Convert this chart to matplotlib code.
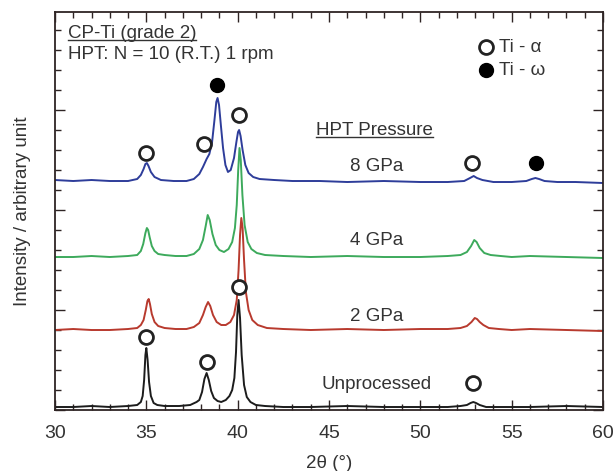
import matplotlib
matplotlib.use("Agg")
import matplotlib.pyplot as plt
import matplotlib.ticker as ticker
from matplotlib.lines import Line2D

plt.rcParams['font.family'] = ['Liberation Sans', 'DejaVu Sans']

# XRD patterns (2theta in degrees, intensity in arbitrary units)
x_unproc = [30, 31, 32, 33, 34, 34.5, 34.7, 34.8, 34.88, 34.95, 35.0, 35.07, 35.15, 35.25, 35.4,
            35.6, 36.0, 36.8, 37.4, 37.75, 37.9, 38.05, 38.18, 38.3, 38.42, 38.55, 38.7, 38.9,
            39.1, 39.35, 39.55, 39.7, 39.82, 39.91, 39.98, 40.05, 40.13, 40.22, 40.35, 40.5, 40.7,
            41.0, 41.5, 42.5, 44, 46, 48, 50, 51.5, 52.2, 52.55, 52.75, 52.9, 53.05, 53.25, 53.6,
            54.2, 56, 58, 60]
y_unproc = [3, 3, 4, 3, 4, 5, 8, 14, 30, 55, 62, 50, 28, 14, 7,
            5, 4, 4, 5, 8, 10, 18, 31, 37, 30, 19, 12, 9,
            8, 10, 14, 20, 32, 58, 95, 110, 92, 55, 25, 13, 8,
            5, 4, 3, 3, 4, 3, 3, 3, 4, 5, 7, 8, 7, 5, 3,
            3, 3, 4, 3]

x_2gpa = [30, 31, 32, 33, 34, 34.5, 34.7, 34.85, 34.97, 35.06, 35.13, 35.2, 35.3, 35.45, 35.65,
          36.0, 36.6, 37.2, 37.6, 37.9, 38.1, 38.25, 38.38, 38.5, 38.65, 38.85, 39.1, 39.35,
          39.6, 39.8, 39.95, 40.05, 40.13, 40.2, 40.27, 40.35, 40.45, 40.6, 40.8, 41.1, 41.6,
          42.5, 44, 46, 48, 50, 51.5, 52.2, 52.55, 52.8, 52.98, 53.1, 53.25, 53.45, 53.75,
          54.3, 55, 56, 58, 60]
y_2gpa = [80, 81, 80, 80, 81, 82, 85, 90, 100, 109, 111, 106, 96, 88, 84,
          82, 81, 81, 83, 87, 95, 103, 108, 104, 95, 88, 85, 85,
          88, 95, 110, 140, 175, 192, 182, 150, 118, 100, 90, 85, 82,
          81, 80, 81, 80, 81, 81, 82, 84, 88, 92, 91, 88, 85, 82,
          81, 80, 81, 80, 79]

x_4gpa = [30, 31, 32, 33, 34, 34.5, 34.7, 34.83, 34.95, 35.03, 35.1, 35.18, 35.3, 35.45, 35.65,
          36.0, 36.6, 37.2, 37.6, 37.9, 38.1, 38.25, 38.36, 38.47, 38.62, 38.8, 39.0, 39.25,
          39.5, 39.7, 39.85, 39.95, 40.03, 40.1, 40.17, 40.26, 40.38, 40.55, 40.75, 41.05, 41.5,
          42.5, 44, 46, 48, 50, 51.5, 52.2, 52.55, 52.78, 52.95, 53.08, 53.25, 53.5, 53.85,
          54.4, 55, 56, 58, 60]
y_4gpa = [153, 153, 154, 153, 154, 155, 159, 166, 177, 182, 180, 173, 164, 159, 156,
          155, 154, 154, 156, 161, 170, 184, 195, 190, 176, 165, 160, 158,
          161, 168, 182, 205, 240, 262, 250, 215, 185, 168, 161, 157, 155,
          154, 153, 154, 153, 153, 154, 155, 158, 164, 170, 168, 162, 157, 155,
          154, 153, 154, 153, 152]

x_8gpa = [30, 31, 32, 33, 34, 34.5, 34.7, 34.85, 34.95, 35.03, 35.12, 35.25, 35.45, 35.8, 36.5,
          37.2, 37.6, 37.9, 38.1, 38.3, 38.45, 38.6, 38.73, 38.83, 38.9, 38.98, 39.08, 39.2,
          39.33, 39.47, 39.62, 39.8, 39.93, 40.02, 40.08, 40.16, 40.27, 40.42, 40.6, 40.85, 41.2,
          42, 43, 44.5, 46, 48, 50, 51.5, 52.4, 52.72, 52.92, 53.1, 53.4, 54, 55, 55.8, 56.1,
          56.3, 56.5, 56.8, 57.5, 58.5, 60]
y_8gpa = [230, 229, 230, 229, 229, 231, 235, 241, 246, 247, 244, 238, 233, 230, 229,
          229, 231, 236, 243, 251, 256, 268, 290, 308, 312, 305, 285, 262,
          245, 238, 240, 252, 268, 278, 280, 274, 260, 245, 237, 233, 231,
          230, 229, 229, 228, 229, 228, 228, 229, 232, 234, 232, 230, 228, 228, 229, 231,
          232, 231, 229, 228, 228, 227]

# phase markers: Ti-alpha (open) and Ti-omega (filled)
alpha_x = [35.0, 38.17, 40.07, 52.84, 35.0, 38.34, 40.05, 52.9]
alpha_y = [257, 266, 295, 247, 73, 48, 123, 27]
omega_x = [38.88, 56.33]
omega_y = [325, 247]

series = [
    (x_unproc, y_unproc, '#1c1c1c', 'Unprocessed', 26),
    (x_2gpa, y_2gpa, '#b83a2e', '2 GPa', 94),
    (x_4gpa, y_4gpa, '#3daa5c', '4 GPa', 170),
    (x_8gpa, y_8gpa, '#2e3d9a', '8 GPa', 244),
]

txt = '#333333'
frame = '#2e2424'
fs = 13.5

fig = plt.figure(figsize=(6.13, 4.71), dpi=100)
ax = fig.add_axes([0.0897, 0.1295, 0.894, 0.845])

for xs, ys, c, lab, ly in series:
    ax.plot(xs, ys, color=c, lw=1.4, zorder=2)
    ax.text(47.6, ly, lab, color=txt, fontsize=fs, ha='center', va='center', zorder=4)

ax.plot(alpha_x, alpha_y, 'o', ms=10, mfc='white', mec='#222222', mew=2, zorder=3)
ax.plot(omega_x, omega_y, 'o', ms=10, mfc='black', mec='black', zorder=3)

# legend drawn as in the original figure
ax.plot([53.57], [363], 'o', ms=10, mfc='white', mec='#222222', mew=2)
ax.plot([53.57], [340], 'o', ms=10, mfc='black', mec='black')
ax.text(54.3, 363, 'Ti - α', color=txt, fontsize=fs, va='center')
ax.text(54.3, 340, 'Ti - ω', color=txt, fontsize=fs, va='center')

t1 = ax.text(30.71, 372, 'CP-Ti (grade 2)', color=txt, fontsize=fs, va='baseline')
ax.text(30.71, 356, 'HPT: N = 10 (R.T.) 1 rpm', color=txt, fontsize=fs, va='center')
t2 = ax.text(44.29, 275, 'HPT Pressure', color=txt, fontsize=fs, va='baseline')

ax.set_xlim(30, 60)
ax.set_ylim(0, 398)
ax.xaxis.set_major_locator(ticker.MultipleLocator(5))
ax.xaxis.set_minor_locator(ticker.MultipleLocator(1))
ax.yaxis.set_major_locator(ticker.MultipleLocator(100))
ax.yaxis.set_minor_locator(ticker.MultipleLocator(20))
ax.tick_params(which='both', direction='in', top=True, right=True, colors=frame,
               labelcolor=txt, labelsize=14, width=1)
ax.tick_params(which='major', length=7, pad=11)
ax.tick_params(which='minor', length=4)
ax.tick_params(axis='y', labelleft=False)
for s in ax.spines.values():
    s.set_color(frame)
    s.set_linewidth(1.3)

ax.set_xlabel('2θ (°)', fontsize=fs, color=txt, labelpad=9)
ax.set_ylabel('Intensity / arbitrary unit', fontsize=fs, color=txt, labelpad=14)

# underline the two headings
fig.canvas.draw()
inv = fig.transFigure.inverted()
for t in (t1, t2):
    bb = t.get_window_extent()
    base = ax.transData.transform(t.get_position())[1] - 2
    (x0, y0), (x1, _) = inv.transform([(bb.x0, base), (bb.x1, base)])
    fig.add_artist(Line2D([x0, x1], [y0, y0], color=txt, lw=1))

fig.savefig('out.png', dpi=100)
